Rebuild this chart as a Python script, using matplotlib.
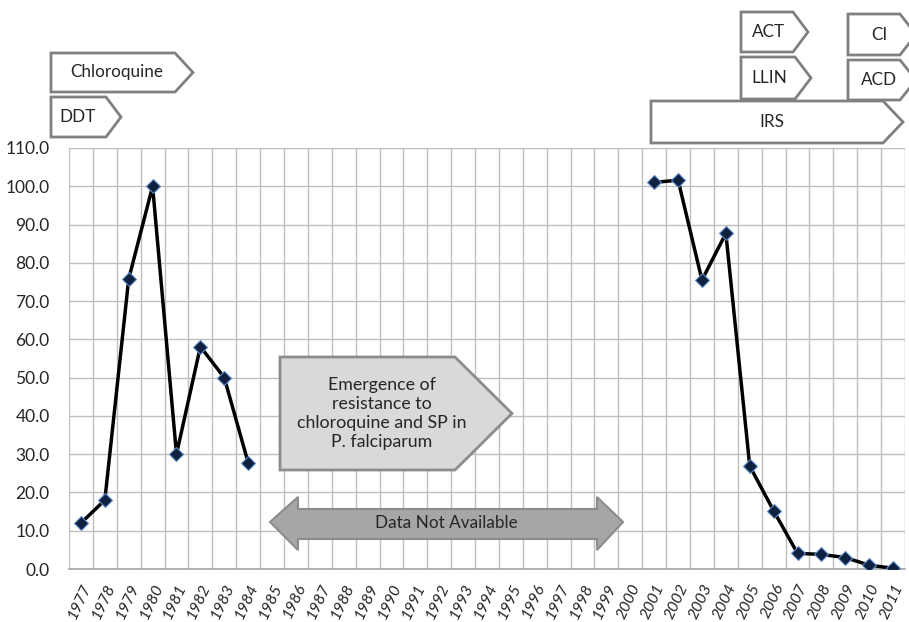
import numpy as np
import matplotlib
matplotlib.use("Agg")
import matplotlib.pyplot as plt
from matplotlib.patches import Polygon
from matplotlib.ticker import FixedLocator, FuncFormatter

plt.rcParams['font.family'] = ['Lato', 'DejaVu Sans']

# ---- data ----
years = list(range(1977, 2012))
values_early = {1977: 12.0, 1978: 18.0, 1979: 75.8, 1980: 100.0, 1981: 30.0,
                1982: 58.1, 1983: 50.0, 1984: 27.8}
values_late = {2001: 101.0, 2002: 101.6, 2003: 75.5, 2004: 87.7, 2005: 26.9,
               2006: 15.2, 2007: 4.1, 2008: 3.8, 2009: 3.0, 2010: 1.0, 2011: 0.2}
yticks = list(range(0, 111, 10))

series = [values_early.get(y, values_late.get(y, np.nan)) for y in years]

W, H = 909, 622
fig = plt.figure(figsize=(W / 100, H / 100), dpi=100)
ax = fig.add_axes([69 / W, (H - 569) / H, (905 - 69) / W, (569 - 148) / H])

x = np.arange(len(years))
ax.plot(x, series, color='black', lw=2.5, zorder=3,
        marker='D', markersize=7, markerfacecolor='#10203f',
        markeredgecolor='#5b8bc9', markeredgewidth=0.8)

ax.set_xlim(-0.5, len(years) - 0.5)
ax.set_ylim(0, 110)
ax.set_yticks(yticks)
ax.yaxis.set_major_formatter(FuncFormatter(lambda v, p: f"{v:.1f}"))
ax.set_xticks(x)
ax.set_xticklabels([str(y) for y in years], rotation=65, ha='right', va='top',
                   rotation_mode='anchor', fontstyle='italic')
ax.xaxis.set_minor_locator(FixedLocator(np.arange(-0.5, len(years), 1)))
ax.tick_params(axis='both', which='both', length=0)
ax.tick_params(axis='y', labelsize=12.5, pad=14, labelcolor='#262626')
ax.tick_params(axis='x', labelsize=11.5, pad=9, labelcolor='#262626')
ax.grid(True, axis='y', which='major', color='#bfbfbf', lw=1)
ax.grid(True, axis='x', which='minor', color='#bfbfbf', lw=1)
ax.set_axisbelow(True)
for s in ['top', 'right', 'left']:
    ax.spines[s].set_visible(False)
ax.spines['bottom'].set_color('#a6a6a6')
ax.spines['bottom'].set_linewidth(1.2)


def P(px, py):
    return (px / W, 1 - py / H)


def pentagon(x0, y0, x1, xt, y1, label, fc='white', ec='#808080', fs=12.3, lw=2.0,
             tx=None, ls=1.15):
    ym = (y0 + y1) / 2
    pts = [P(x0, y0), P(x1, y0), P(xt, ym), P(x1, y1), P(x0, y1)]
    fig.patches.append(Polygon(pts, closed=True, facecolor=fc, edgecolor=ec, lw=lw,
                               transform=fig.transFigure, zorder=5))
    cx = tx if tx is not None else (x0 + x1) / 2
    fig.text(*P(cx, ym), label, ha='center', va='center', fontsize=fs,
             color='#262626', zorder=6, linespacing=ls)


pentagon(51, 53, 175, 193, 92, 'Chloroquine', tx=117)
pentagon(51, 97, 106, 121, 137, 'DDT', tx=78)
pentagon(741, 12, 793, 808, 52, 'ACT', tx=769)
pentagon(741, 57, 795, 811, 99, 'LLIN', tx=769)
pentagon(848, 14, 900, 916, 55, 'CI', tx=879)
pentagon(848, 60, 900, 916, 100, 'ACD', tx=879)
pentagon(651, 101, 883, 903, 143, 'IRS', tx=772)
pentagon(280, 357, 455, 512, 470,
         'Emergence of\nresistance to\nchloroquine and SP in\nP. falciparum',
         fc='#d9d9d9', ec='#8c8c8c', fs=12.8, tx=382, ls=1.22)

# double arrow
arrow_pts = [P(270, 522), P(298, 497), P(298, 509), P(597, 509), P(597, 497),
             P(623, 522), P(597, 550), P(597, 539), P(298, 539), P(298, 550)]
fig.patches.append(Polygon(arrow_pts, closed=True, facecolor='#a6a6a6', edgecolor='#8c8c8c',
                           lw=1.5, transform=fig.transFigure, zorder=5))
fig.text(*P(446, 523), 'Data Not Available', ha='center', va='center', fontsize=12.3,
         color='#262626', zorder=6)

fig.savefig('out.png', dpi=100, facecolor='white')
